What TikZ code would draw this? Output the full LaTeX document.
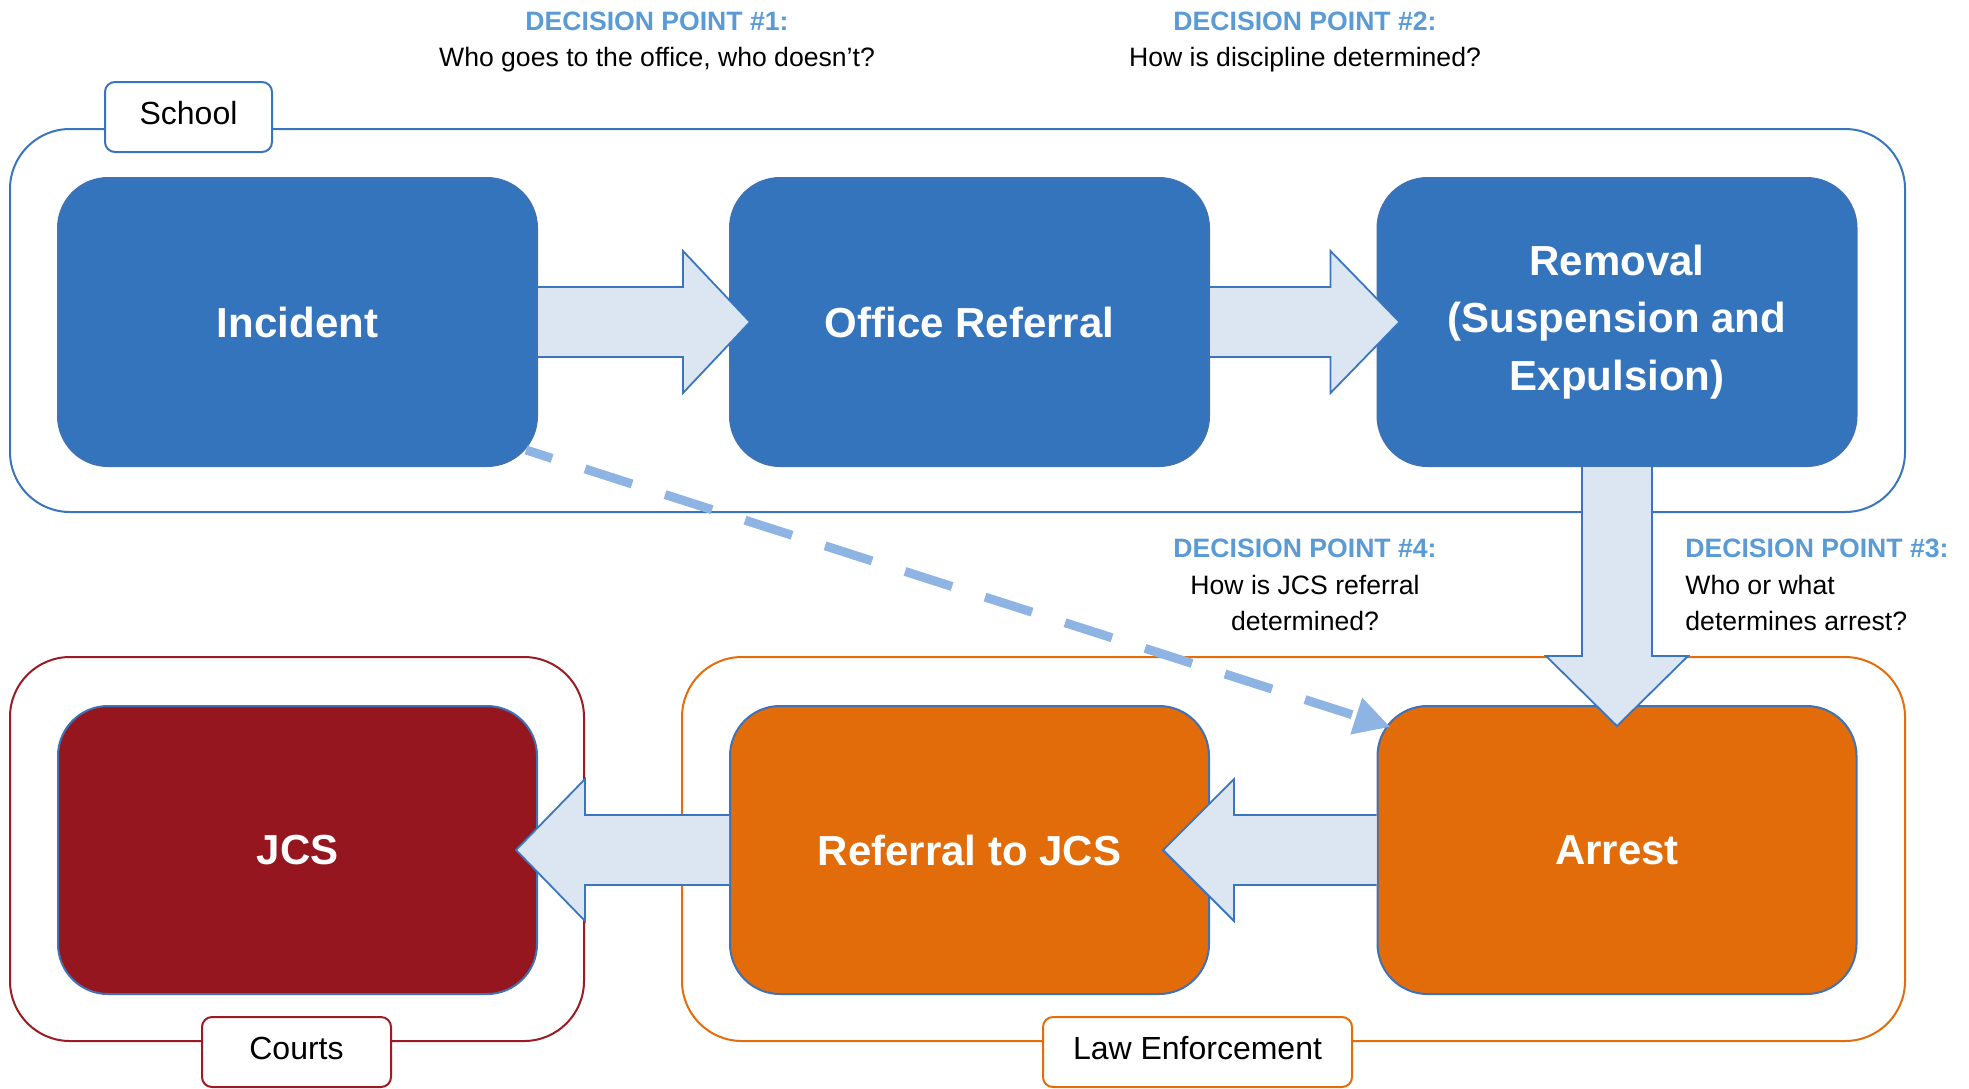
\documentclass[tikz,border=0pt]{standalone}
\usepackage{fontspec}
\setmainfont{Liberation Sans}
\usetikzlibrary{arrows.meta,positioning,calc}

\definecolor{schoolblue}{HTML}{3474BD}
\definecolor{lawor}{HTML}{E26B0A}
\definecolor{courtred}{HTML}{961620}
\definecolor{boxline}{HTML}{3F72B4}
\definecolor{schoolline}{HTML}{3A74BC}
\definecolor{courtline}{HTML}{9A1B22}
\definecolor{lawline}{HTML}{E46C0A}
\definecolor{arrowfill}{HTML}{DCE6F2}
\definecolor{arrowline}{HTML}{3A75C0}
\definecolor{dpblue}{HTML}{5B9BD5}
\definecolor{jumpblue}{HTML}{8EB4E3}

\begin{document}
\begin{tikzpicture}[x=0.5pt,y=-0.5pt,on grid,
    stage/.style={rounded corners=25pt,draw=boxline,line width=1pt,text=white,
      minimum width=239.5pt,minimum height=144pt,align=center,
      font=\fontsize{21}{28.6}\selectfont\bfseries},
    zone/.style={rounded corners=30pt,line width=1pt},
    tag/.style={rounded corners=5pt,fill=white,line width=1pt,minimum height=35pt,
      text height=11.6pt,text depth=4pt,font=\fontsize{16}{19}\selectfont},
    dp/.style={align=center,inner sep=0pt,font=\fontsize{13.3}{18.4}\selectfont}]
  \tikzstyle{bigarrow}=[fill=arrowfill,draw=arrowline,line width=0.9pt,line join=miter]
  \tikzstyle{jump}=[draw=jumpblue,line width=4.5pt,dash pattern=on 24.7pt off 17.3pt,dash phase=11pt]
  \useasboundingbox (0,0) rectangle (1969,1088);

  % Zones
  \draw[zone,draw=schoolline] (10,129) rectangle (1905,512);
  \draw[zone,draw=courtline] (10,657) rectangle (584,1041);
  \draw[zone,draw=lawline] (682,657) rectangle (1905,1041);

  % Stages
  \node[stage,fill=schoolblue] (incident) at (297.5,322) {Incident};
  \node[stage,fill=schoolblue] (office) [right=336pt of incident] {Office Referral};
  \node[stage,fill=schoolblue] (removal) [right=323.75pt of office] {Removal\\(Suspension and\\Expulsion)};
  \node[stage,fill=courtred] (jcs) [below=264pt of incident] {JCS};
  \node[stage,fill=lawor] (referral) [below=264pt of office] {Referral to JCS};
  \node[stage,fill=lawor] (arrest) [below=264pt of removal] {Arrest};

  % Flow
  \coordinate (t1) at ($(office.west)+(21,0)$);
  \coordinate (t2) at ($(removal.west)+(23,0)$);
  \coordinate (t3) at ($(arrest.north)+(0,21)$);
  \coordinate (t4) at ($(referral.east)+(-47,0)$);
  \coordinate (t5) at ($(jcs.east)+(-22,0)$);
  \draw[bigarrow] ($(incident.east)+(0,-35)$) -- ($(t1)+(-67,-35)$) -- ++(0,-36) -- (t1)
    -- ++(-67,71) -- ++(0,-36) -- ($(incident.east)+(0,35)$);
  \draw[bigarrow] ($(office.east)+(0,-35)$) -- ($(t2)+(-69,-35)$) -- ++(0,-36) -- (t2)
    -- ++(-69,71) -- ++(0,-36) -- ($(office.east)+(0,35)$);
  \draw[bigarrow] ($(removal.south)+(-35,0)$) -- ($(t3)+(-35,-70)$) -- ++(-36,0) -- (t3)
    -- ++(71,-70) -- ++(-36,0) -- ($(removal.south)+(35,0)$);
  \draw[bigarrow] ($(arrest.west)+(0,-35)$) -- ($(t4)+(71,-35)$) -- ++(0,-36) -- (t4)
    -- ++(71,71) -- ++(0,-36) -- ($(arrest.west)+(0,35)$);
  \draw[bigarrow] ($(referral.west)+(0,-35)$) -- ($(t5)+(69,-35)$) -- ++(0,-36) -- (t5)
    -- ++(69,71) -- ++(0,-36) -- ($(referral.west)+(0,35)$);
  \draw[jump,-{Triangle[length=18pt,width=18pt]}] ($(incident.south east)+(-12,-17)$)
    -- ($(arrest.north west)+(14,22)$);

  % Tags
  \node[tag,draw=schoolline,minimum width=83.5pt] (schooltag) at (188.5,117) {School};
  \node[tag,draw=courtline,minimum width=94.5pt] (courtstag) at (296.5,1052) {Courts};
  \node[tag,draw=lawline,minimum width=154.5pt] (lawtag) at (1197.5,1052) {Law Enforcement};

  % Decision points
  \node[dp] (dp1) at (657,42) {\textcolor{dpblue}{\bfseries DECISION POINT \#1:}\\Who goes to the office, who doesn't?};
  \node[dp] (dp2) at (1305,42) {\textcolor{dpblue}{\bfseries DECISION POINT \#2:}\\How is discipline determined?};
  \node[dp] (dp4) at (1305,585) {\textcolor{dpblue}{\bfseries DECISION POINT \#4:}\\How is JCS referral\\determined?};
  \node[dp,anchor=west,align=left] (dp3) at (1685,585) {\textcolor{dpblue}{\bfseries DECISION POINT \#3:}\\Who or what\\determines arrest?};
\end{tikzpicture}
\end{document}
